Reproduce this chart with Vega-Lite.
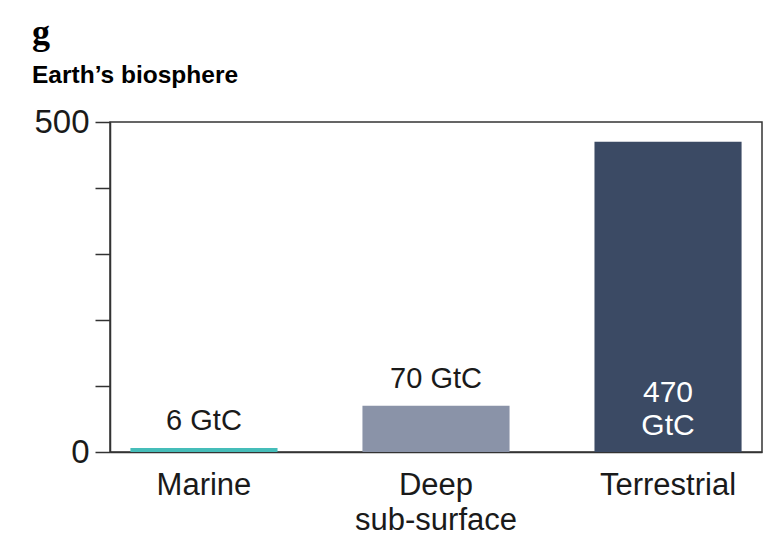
{
  "$schema": "https://vega.github.io/schema/vega-lite/v6.json",
  "autosize": "none",
  "width": 652,
  "height": 330,
  "padding": {"left": 110, "top": 122, "right": 9, "bottom": 87},
  "background": "white",
  "title": {
    "text": "g",
    "subtitle": "Earth’s biosphere",
    "anchor": "start",
    "frame": "group",
    "dx": -78,
    "offset": 18,
    "font": "Liberation Serif",
    "fontSize": 36,
    "fontWeight": "bold",
    "color": "#000000",
    "subtitleFont": "Liberation Sans",
    "subtitleFontSize": 24.5,
    "subtitleFontWeight": "bold",
    "subtitleColor": "#000000",
    "subtitlePadding": 12
  },
  "config": {
    "view": {"stroke": "#333333", "strokeWidth": 1.5},
    "font": "Liberation Sans"
  },
  "data": {
    "values": [
      {"category": "Marine", "value": 6, "label": "6 GtC"},
      {"category": "Deep sub-surface", "value": 70, "label": "70 GtC"},
      {"category": "Terrestrial", "value": 470, "label": "470\nGtC"}
    ]
  },
  "encoding": {
    "x": {
      "field": "category",
      "type": "nominal",
      "sort": null,
      "scale": {"paddingInner": 0.366, "paddingOuter": 0.088},
      "axis": {
        "title": null,
        "labelAngle": 0,
        "ticks": false,
        "domainColor": "#333333",
        "domainWidth": 1.5,
        "labelFont": "Liberation Sans",
        "labelFontSize": 31,
        "labelColor": "#1a1a1a",
        "labelPadding": 18,
        "labelLineHeight": 35,
        "labelExpr": "datum.label == 'Deep sub-surface' ? ['Deep', 'sub-surface'] : datum.label"
      }
    }
  },
  "layer": [
    {
      "mark": {"type": "bar"},
      "encoding": {
        "y": {
          "field": "value",
          "type": "quantitative",
          "scale": {"domain": [0, 500], "nice": false},
          "axis": {
            "title": null,
            "grid": false,
            "values": [0, 100, 200, 300, 400, 500],
            "labelExpr": "datum.value == 0 || datum.value == 500 ? datum.label : ''",
            "tickSize": 15,
            "tickColor": "#333333",
            "tickWidth": 1.5,
            "domainColor": "#333333",
            "domainWidth": 1.5,
            "labelFont": "Liberation Sans",
            "labelFontSize": 33,
            "labelColor": "#1a1a1a",
            "labelPadding": 6
          }
        },
        "color": {
          "field": "category",
          "type": "nominal",
          "scale": {
            "domain": ["Marine", "Deep sub-surface", "Terrestrial"],
            "range": ["#45bdb9", "#8a93a8", "#3b4a64"]
          },
          "legend": null
        }
      }
    },
    {
      "transform": [{"filter": "datum.value < 200"}],
      "mark": {
        "type": "text",
        "baseline": "alphabetic",
        "dy": -18,
        "fontSize": 29,
        "font": "Liberation Sans",
        "color": "#1a1a1a"
      },
      "encoding": {
        "y": {"field": "value", "type": "quantitative"},
        "text": {"field": "label", "type": "nominal"}
      }
    },
    {
      "transform": [{"filter": "datum.value >= 200"}],
      "mark": {
        "type": "text",
        "baseline": "alphabetic",
        "dy": -50,
        "fontSize": 30,
        "lineHeight": 33,
        "lineBreak": "\n",
        "font": "Liberation Sans",
        "color": "#ffffff"
      },
      "encoding": {
        "y": {"datum": 0, "type": "quantitative"},
        "text": {"field": "label", "type": "nominal"}
      }
    }
  ]
}
